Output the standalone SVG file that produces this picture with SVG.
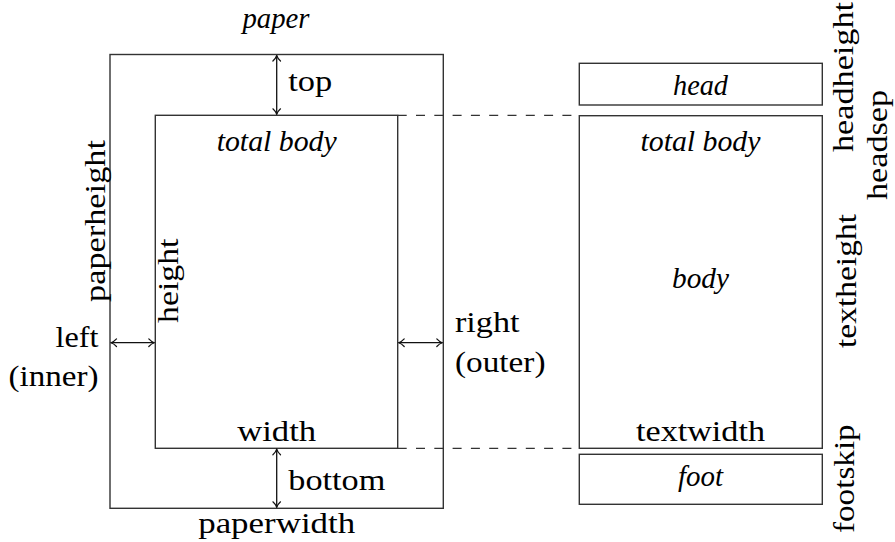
<svg xmlns="http://www.w3.org/2000/svg" width="895" height="542" viewBox="0 0 895 542">
<style>
.box{fill:none;stroke:#333;stroke-width:1.4}
.t{font-family:"Liberation Serif",serif;font-size:29px;fill:#000}
.i{font-style:italic}
.m{text-anchor:middle}
.e{text-anchor:end}
.arr{stroke:#111;stroke-width:1.3;fill:none;marker-start:url(#ah);marker-end:url(#ah)}
.dash{stroke:#333;stroke-width:1.3;fill:none;stroke-dasharray:9 9.3}
</style>
<defs>
<marker id="ah" viewBox="-7 -5 8 10" refX="0" refY="0" markerWidth="8" markerHeight="10" markerUnits="userSpaceOnUse" orient="auto-start-reverse">
<path d="M-5.5,-3.8 C-3.5,-1.6 -1.5,-0.5 0,0 C-1.5,0.5 -3.5,1.6 -5.5,3.8" fill="none" stroke="#111" stroke-width="1.2" stroke-linecap="round"/>
</marker>
</defs>

<g id="paper">
<rect class="box" x="110" y="54.5" width="333.3" height="453.8"/>
<text class="t i m" x="276" y="28" textLength="67" lengthAdjust="spacingAndGlyphs">paper</text>
</g>
<g id="body-left">
<rect class="box" x="155.3" y="115.3" width="242.4" height="333"/>
<text class="t i m" x="276.7" y="150.5" textLength="120" lengthAdjust="spacingAndGlyphs">total body</text>
<text class="t m" x="276.7" y="441" textLength="79" lengthAdjust="spacingAndGlyphs">width</text>
</g>
<g id="head">
<rect class="box" x="579.3" y="63.3" width="243" height="41.7"/>
<text class="t i m" x="700.5" y="95" textLength="55" lengthAdjust="spacingAndGlyphs">head</text>
</g>
<g id="body-right">
<rect class="box" x="579.3" y="115.7" width="243" height="332.6"/>
<text class="t i m" x="700.5" y="150.5" textLength="120" lengthAdjust="spacingAndGlyphs">total body</text>
<text class="t i m" x="700.5" y="288" textLength="57" lengthAdjust="spacingAndGlyphs">body</text>
<text class="t m" x="700.5" y="441" textLength="129" lengthAdjust="spacingAndGlyphs">textwidth</text>
</g>
<g id="foot">
<rect class="box" x="579.3" y="454.3" width="243" height="50"/>
<text class="t i m" x="700.5" y="486" textLength="45" lengthAdjust="spacingAndGlyphs">foot</text>
</g>

<g id="labels">
<text class="t" x="288.3" y="91" textLength="44" lengthAdjust="spacingAndGlyphs">top</text>
<text class="t" x="288.3" y="490" textLength="97" lengthAdjust="spacingAndGlyphs">bottom</text>
<text class="t m" x="276.7" y="533" textLength="157" lengthAdjust="spacingAndGlyphs">paperwidth</text>
<text class="t e" x="98.5" y="346.5" textLength="43" lengthAdjust="spacingAndGlyphs">left</text>
<text class="t e" x="98.5" y="386" textLength="90" lengthAdjust="spacingAndGlyphs">(inner)</text>
<text class="t" x="455" y="332" textLength="64.5" lengthAdjust="spacingAndGlyphs">right</text>
<text class="t" x="455" y="372" textLength="90.5" lengthAdjust="spacingAndGlyphs">(outer)</text>
<text class="t" transform="translate(104.5,302) rotate(-90)" textLength="162" lengthAdjust="spacingAndGlyphs">paperheight</text>
<text class="t" transform="translate(178,323) rotate(-90)" textLength="84.5" lengthAdjust="spacingAndGlyphs">height</text>
<text class="t" transform="translate(853,152) rotate(-90)" textLength="150" lengthAdjust="spacingAndGlyphs">headheight</text>
<text class="t" transform="translate(887,200) rotate(-90)" textLength="110" lengthAdjust="spacingAndGlyphs">headsep</text>
<text class="t" transform="translate(856,348) rotate(-90)" textLength="134" lengthAdjust="spacingAndGlyphs">textheight</text>
<text class="t" transform="translate(854,533) rotate(-90)" textLength="108.7" lengthAdjust="spacingAndGlyphs">footskip</text>
</g>

<g id="connectors">
<line class="arr" x1="276.7" y1="55.5" x2="276.7" y2="114.3"/>
<line class="arr" x1="276.7" y1="449.3" x2="276.7" y2="507.3"/>
<line class="arr" x1="111" y1="342.7" x2="154.3" y2="342.7"/>
<line class="arr" x1="398.7" y1="342.7" x2="442.3" y2="342.7"/>
<line class="dash" x1="397.7" y1="115.3" x2="579.3" y2="115.3"/>
<line class="dash" x1="397.7" y1="448.3" x2="579.3" y2="448.3"/>
</g>
</svg>
